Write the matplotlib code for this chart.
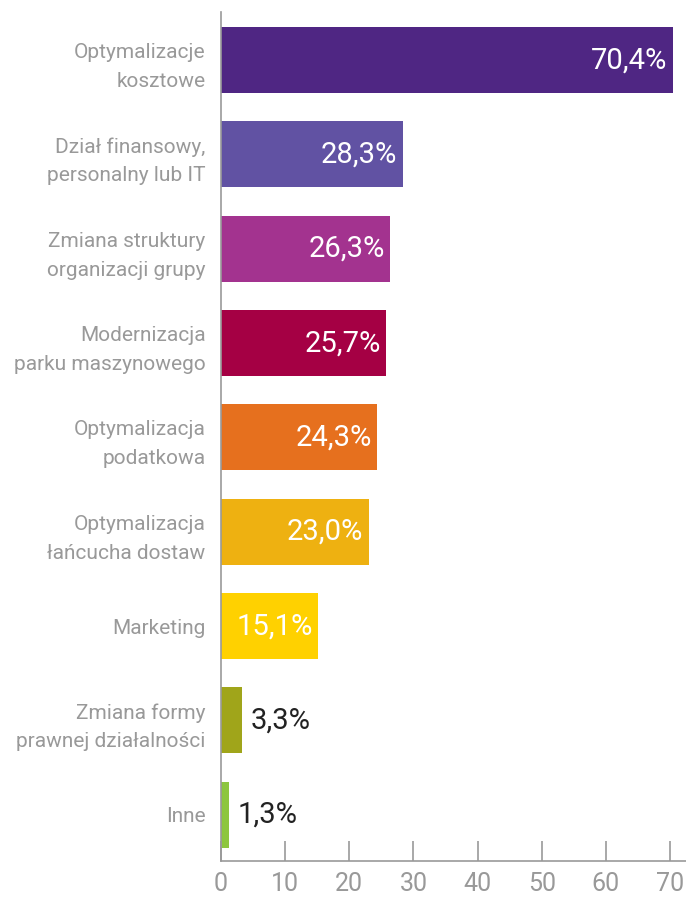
import matplotlib.pyplot as plt

categories = ['Optymalizacje\nkosztowe', 'Dział finansowy,\npersonalny lub IT',
              'Zmiana struktury\norganizacji grupy', 'Modernizacja\nparku maszynowego',
              'Optymalizacja\npodatkowa', 'Optymalizacja\nłańcucha dostaw',
              'Marketing', 'Zmiana formy\nprawnej działalności', 'Inne']
values = [70.4, 28.3, 26.3, 25.7, 24.3, 23.0, 15.1, 3.3, 1.3]
labels = ['70,4%', '28,3%', '26,3%', '25,7%', '24,3%', '23,0%', '15,1%', '3,3%', '1,3%']
colors = ['#4f2683', '#6152a3', '#a3338f', '#a50044', '#e6701e',
          '#eeb111', '#ffd100', '#a0a51a', '#8dc63f']
ticks = [0, 10, 20, 30, 40, 50, 60, 70]

plt.rcParams['font.family'] = ['Roboto', 'DejaVu Sans']

fig = plt.figure(figsize=(6.86, 9), dpi=100)
ax = fig.add_axes([221 / 686, 39 / 900, 1 - 221 / 686, 849 / 900])

ypos = list(range(len(values)))
ax.barh(ypos, values, height=0.7, color=colors)
ax.set_ylim(8.49, -0.51)
ax.set_xlim(0, 72.5)

for y, v, lab in zip(ypos, values, labels):
    if v > 10:
        ax.text(v - 0.8, y, lab, ha='right', va='center', color='white', fontsize=21)
    else:
        ax.text(v + 1.3, y, lab, ha='left', va='center', color='#222222', fontsize=21)

ax.set_yticks(ypos)
ax.set_yticklabels(categories, fontsize=15, color='#999999', linespacing=1.65)
ax.tick_params(axis='y', length=0, pad=11)
ax.set_xticks(ticks)
ax.set_xticklabels([str(t) for t in ticks], fontsize=18, color='#999999')
ax.tick_params(axis='x', direction='in', length=14.4, width=1.2, color='#999999', pad=8)

for s in ['top', 'right']:
    ax.spines[s].set_visible(False)
for s in ['left', 'bottom']:
    ax.spines[s].set_color('#999999')
    ax.spines[s].set_linewidth(1.2)

fig.savefig('out.png', dpi=100)
